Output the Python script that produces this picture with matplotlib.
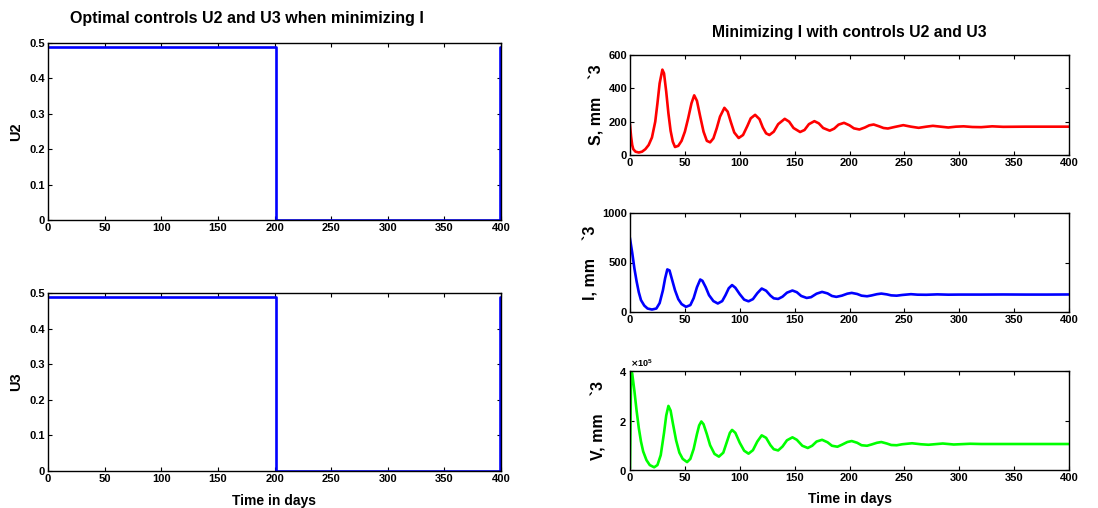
import numpy as np
import matplotlib.pyplot as plt
from matplotlib.ticker import ScalarFormatter

plt.rcParams["font.family"] = ["Liberation Sans", "DejaVu Sans"]
plt.rcParams["font.weight"] = "bold"

# ─── data ─────────────────────────────────────────────────────────────────────
u_t = [0, 201, 201, 399, 399, 400]
u2 = [0.49, 0.49, 0.0, 0.0, 0.49, 0.49]
u3 = [0.49, 0.49, 0.0, 0.0, 0.49, 0.49]

s_t = [0, 1, 2, 3, 5, 8, 11, 14, 17, 20, 23, 25, 27, 29.5, 31, 33, 35, 37, 39, 41,
       44, 47, 50, 53, 56, 58.5, 61, 64, 67, 70, 73, 76, 79, 82, 86, 89, 92, 95, 99,
       103, 107, 110, 114, 118, 121, 124, 127, 131, 135, 141, 145, 149, 155, 159,
       163, 168, 172, 176, 182, 186, 190, 195, 200, 204, 209, 214, 218, 222, 227,
       231, 235, 241, 249, 256, 263, 270, 276, 283, 290, 297, 304, 312, 320, 330,
       340, 360, 380, 400]
s_val = [180, 110, 60, 35, 20, 15, 20, 35, 60, 105, 200, 310, 430, 512, 490, 380,
         250, 145, 80, 48, 55, 85, 140, 220, 310, 358, 325, 230, 140, 85, 76, 100,
         160, 230, 283, 260, 195, 135, 102, 120, 175, 220, 241, 215, 165, 130, 120,
         140, 185, 217, 200, 162, 138, 150, 185, 203, 190, 162, 146, 158, 182, 193,
         178, 160, 153, 165, 178, 183, 172, 162, 159, 168, 179, 170, 163, 170, 175,
         170, 165, 170, 172, 168, 167, 172, 169, 170, 170, 170]

i_t = [0, 2, 4, 6, 8, 10, 13, 16, 20, 24, 27, 30, 32, 34, 36, 38, 41, 44, 47, 51,
       55, 58, 61, 64, 66, 69, 72, 76, 80, 84, 87, 90, 93, 96, 100, 104, 108, 112,
       116, 120, 124, 128, 131, 135, 139, 143, 148, 152, 156, 161, 165, 170, 175,
       180, 184, 188, 193, 198, 202, 207, 211, 216, 220, 225, 229, 234, 238, 243,
       248, 256, 262, 270, 280, 290, 300, 320, 340, 360, 380, 400]
i_val = [740, 600, 440, 310, 200, 120, 65, 35, 25, 35, 90, 220, 340, 430, 420, 340,
         220, 130, 80, 52, 70, 140, 250, 328, 315, 250, 170, 110, 86, 110, 170, 240,
         272, 245, 180, 125, 108, 130, 190, 237, 215, 165, 138, 132, 155, 195, 217,
         200, 162, 142, 150, 185, 203, 188, 162, 153, 165, 185, 193, 182, 165, 159,
         167, 180, 186, 178, 168, 165, 172, 180, 175, 174, 178, 175, 176, 176, 177,
         176, 176, 177]

v_t = [0, 1, 2, 4, 6, 8, 10, 12, 15, 18, 22, 25, 28, 31, 33, 35, 37, 39, 42, 45,
       48, 52, 55, 58, 61, 63, 65, 67, 70, 73, 77, 81, 85, 88, 91, 93, 96, 100, 104,
       108, 112, 116, 120, 124, 128, 131, 135, 139, 143, 148, 152, 157, 162, 166,
       170, 175, 180, 184, 189, 193, 198, 202, 207, 211, 216, 220, 225, 229, 234,
       238, 243, 248, 257, 265, 272, 285, 295, 310, 320, 340, 360, 400]
v_val = [0.1, 4.0, 3.9, 3.2, 2.4, 1.7, 1.15, 0.75, 0.4, 0.2, 0.11, 0.2, 0.6, 1.5,
         2.2, 2.59, 2.4, 1.9, 1.2, 0.7, 0.45, 0.32, 0.45, 0.85, 1.45, 1.8, 1.96,
         1.85, 1.45, 1.0, 0.65, 0.54, 0.7, 1.1, 1.5, 1.62, 1.5, 1.1, 0.78, 0.66, 0.8,
         1.15, 1.4, 1.3, 1.0, 0.84, 0.79, 0.95, 1.2, 1.32, 1.22, 0.98, 0.89, 0.98,
         1.15, 1.22, 1.12, 0.98, 0.94, 1.02, 1.13, 1.17, 1.1, 1.0, 0.98, 1.03, 1.1,
         1.13, 1.07, 1.01, 1.0, 1.04, 1.08, 1.04, 1.02, 1.07, 1.03, 1.06, 1.05, 1.05,
         1.05, 1.05]
v_scale = 1e5

x_ticks = [0, 50, 100, 150, 200, 250, 300, 350, 400]
u_ticks = [0, 0.1, 0.2, 0.3, 0.4, 0.5]
u_ticklabels = ["0", "0.1", "0.2", "0.3", "0.4", "0.5"]


def style_axes(ax, yticks):
    ax.set_xlim(0, 400)
    ax.set_xticks(x_ticks)
    ax.set_yticks(yticks)
    ax.tick_params(direction="in", top=True, right=True, length=3,
                   labelsize=8, pad=2, width=0.8)
    for lbl in ax.get_xticklabels() + ax.get_yticklabels():
        lbl.set_fontweight("bold")
    for sp in ax.spines.values():
        sp.set_linewidth(1.0)


W, H = 1098, 508
fig = plt.figure(figsize=(W / 100, H / 100), dpi=100)


def box(x0, y0, x1, y1):
    return [x0 / W, 1 - y1 / H, (x1 - x0) / W, (y1 - y0) / H]


# ─── left: controls ───────────────────────────────────────────────────────────
ax_u2 = fig.add_axes(box(48, 43, 501, 220))
ax_u2.plot(u_t, u2, color="#0000ff", linewidth=1.9)
ax_u2.set_ylim(0, 0.5)
style_axes(ax_u2, u_ticks)
ax_u2.set_yticklabels(u_ticklabels)
ax_u2.set_ylabel("U2", fontsize=10.5, fontweight="bold", labelpad=5)

ax_u3 = fig.add_axes(box(48, 293, 501, 471))
ax_u3.plot(u_t, u3, color="#0000ff", linewidth=1.9)
ax_u3.set_ylim(0, 0.5)
style_axes(ax_u3, u_ticks)
ax_u3.set_yticklabels(u_ticklabels)
ax_u3.set_ylabel("U3", fontsize=10.5, fontweight="bold", labelpad=5)
ax_u3.set_xlabel("Time in days", fontsize=10, fontweight="bold", labelpad=7)

fig.text(247 / W, 1 - 18 / H, "Optimal controls U2 and U3 when minimizing I",
         ha="center", va="center", fontsize=11.5, fontweight="bold")

# ─── right: states ────────────────────────────────────────────────────────────
ax_s = fig.add_axes(box(630, 55, 1069, 155))
ax_s.plot(s_t, s_val, color="#ff0000", linewidth=1.9)
ax_s.set_ylim(0, 600)
style_axes(ax_s, [0, 200, 400, 600])
ax_s.set_ylabel("S, mm    `3", fontsize=11.5, fontweight="bold", labelpad=3)

ax_i = fig.add_axes(box(630, 213, 1069, 312))
ax_i.plot(i_t, i_val, color="#0000ff", linewidth=1.9)
ax_i.set_ylim(0, 1000)
style_axes(ax_i, [0, 500, 1000])
ax_i.set_ylabel("I, mm    `3", fontsize=11.5, fontweight="bold", labelpad=3)

ax_v = fig.add_axes(box(630, 371, 1069, 470))
ax_v.plot(v_t, np.array(v_val) * v_scale, color="#00ff00", linewidth=1.9)
ax_v.set_ylim(0, 4 * v_scale)
fmt = ScalarFormatter(useMathText=True)
fmt.set_powerlimits((0, 0))
ax_v.yaxis.set_major_formatter(fmt)
style_axes(ax_v, [0, 2 * v_scale, 4 * v_scale])
ax_v.yaxis.get_offset_text().set_fontsize(6.5)
ax_v.yaxis.get_offset_text().set_fontweight("bold")
ax_v.set_ylabel("V, mm    `3", fontsize=11.5, fontweight="bold", labelpad=9)
ax_v.set_xlabel("Time in days", fontsize=10, fontweight="bold", labelpad=7)

fig.text(849 / W, 1 - 32 / H, "Minimizing I with controls U2 and U3",
         ha="center", va="center", fontsize=11.3, fontweight="bold")

fig.savefig("out.png", dpi=100)
